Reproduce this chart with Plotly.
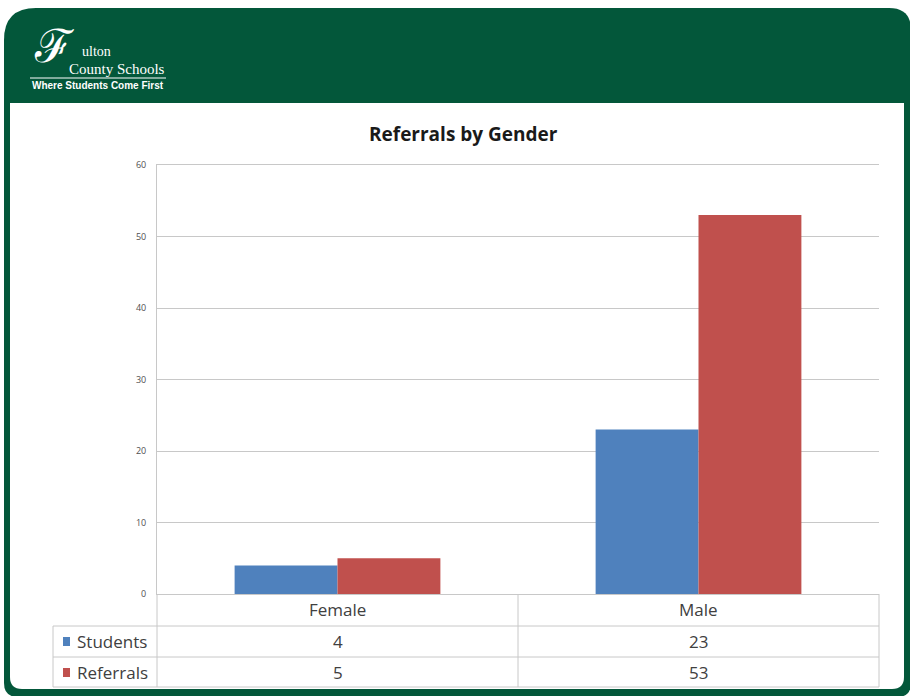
import plotly.graph_objects as go

# ---- data ----
categories = ["Female", "Male"]
series_names = ["Students", "Referrals"]
students = [4, 23]
referrals = [5, 53]
y_ticks = [0, 10, 20, 30, 40, 50, 60]
title_text = "Referrals by Gender"

# ---- styling ----
BLUE = "#4F81BD"
RED = "#C0504D"
GREEN = "#03573A"
GRID = "#C8C8C8"
TEXT = "#404040"
FONT = "Open Sans, Lato, sans-serif"

W_FIG, H_FIG = 910, 696
L, R, T, B = 157, 879, 165, 594
PW, PH = R - L, B - T


def px(x):
    return (x - L) / PW


def py(y):
    return (B - y) / PH


def rrect_path(x0, y0, x1, y1, rtl, rtr, rbr, rbl):
    pts = []
    pts.append(f"M{px(x0)},{py(y0 + rtl)}")
    pts.append(f"Q{px(x0)},{py(y0)} {px(x0 + rtl)},{py(y0)}")
    pts.append(f"L{px(x1 - rtr)},{py(y0)}")
    pts.append(f"Q{px(x1)},{py(y0)} {px(x1)},{py(y0 + rtr)}")
    pts.append(f"L{px(x1)},{py(y1 - rbr)}")
    pts.append(f"Q{px(x1)},{py(y1)} {px(x1 - rbr)},{py(y1)}")
    pts.append(f"L{px(x0 + rbl)},{py(y1)}")
    pts.append(f"Q{px(x0)},{py(y1)} {px(x0)},{py(y1 - rbl)}")
    pts.append("Z")
    return " ".join(pts)


fig = go.Figure()
series_vals = [students, referrals]
colors = [BLUE, RED]
for name, vals, col in zip(series_names, series_vals, colors):
    fig.add_trace(go.Bar(x=categories, y=vals, name=name, marker=dict(color=col, line=dict(width=0))))

shapes = []
# frame
shapes.append(dict(type="path", xref="paper", yref="paper", layer="below",
                   path=rrect_path(4, 8, 911, 697, 32, 22, 14, 14),
                   fillcolor=GREEN, line=dict(width=0)))
shapes.append(dict(type="path", xref="paper", yref="paper", layer="below",
                   path=rrect_path(10, 103, 904, 689, 0, 0, 12, 12),
                   fillcolor="white", line=dict(width=0)))


def hline(x0, x1, y):
    shapes.append(dict(type="line", xref="paper", yref="paper", x0=px(x0), x1=px(x1), y0=py(y), y1=py(y),
                       line=dict(color=GRID, width=1)))


def vline(x, y0, y1, xref="paper"):
    xv = px(x) if xref == "paper" else x
    shapes.append(dict(type="line", xref=xref, yref="paper", x0=xv, x1=xv, y0=py(y0), y1=py(y1),
                       line=dict(color=GRID, width=1)))


# table lines
hline(53, R, 626)
hline(53, R, 657)
hline(53, R, 687)
vline(L, B, 687)
vline(R, B, 687)
vline(53, 626, 687)
vline(0.5, B, 687, xref="x")

# legend squares in table
row_y = [641, 672]
for col, yy in zip(colors, row_y):
    shapes.append(dict(type="rect", xref="paper", yref="paper", x0=px(63), x1=px(70), y0=py(yy + 5), y1=py(yy - 4),
                       fillcolor=col, line=dict(width=0)))

annotations = []


def ann(text, x, y, size, color=TEXT, xref="paper", xanchor="center", family=FONT):
    annotations.append(dict(text=text, xref=xref, yref="paper", x=x, y=y, xanchor=xanchor, yanchor="middle",
                            showarrow=False, font=dict(family=family, size=size, color=color)))


# title
ann(f"<b>{title_text}</b>", px(463), py(134), 19, color="#1a1a1a")
# table header
for i, c in enumerate(categories):
    ann(c, i, py(609), 17, xref="x")
# table rows
for name, vals, yy in zip(series_names, series_vals, row_y):
    ann(name, px(75), py(yy), 17, xanchor="left")
    for i, v in enumerate(vals):
        ann(str(v), i, py(yy), 17, xref="x")

# logo
ann("ℱ", px(54), py(46), 46, color="white", family="DejaVu Serif")
ann("ulton", px(80), py(52), 14, color="white", xanchor="left", family="Liberation Serif")
ann("County Schools", px(67), py(69), 15, color="white", xanchor="left", family="Liberation Serif")
ann("<b>Where Students Come First</b>", px(30), py(86), 10, color="white", xanchor="left",
    family="Liberation Sans Narrow, Liberation Sans")
shapes.append(dict(type="line", xref="paper", yref="paper", x0=px(30), x1=px(166), y0=py(78), y1=py(78),
                   line=dict(color="white", width=1)))

fig.update_layout(
    width=W_FIG, height=H_FIG,
    margin=dict(l=L, r=W_FIG - R, t=T, b=H_FIG - B, pad=0),
    paper_bgcolor="white", plot_bgcolor="rgba(0,0,0,0)",
    barmode="group", bargap=0.43, bargroupgap=0,
    showlegend=False,
    shapes=shapes, annotations=annotations,
    xaxis=dict(showticklabels=False, showgrid=False, zeroline=False, showline=True, mirror=True,
               linecolor=GRID, linewidth=1, ticks=""),
    yaxis=dict(range=[0, 60], tickvals=y_ticks, showgrid=True, gridcolor=GRID, gridwidth=1,
               zeroline=False, showline=True, linecolor=GRID, linewidth=1, ticks="",
               tickfont=dict(family=FONT, size=9, color="#505050"), ticklabelstandoff=8),
    font=dict(family=FONT),
)

fig.write_html("out.html")
